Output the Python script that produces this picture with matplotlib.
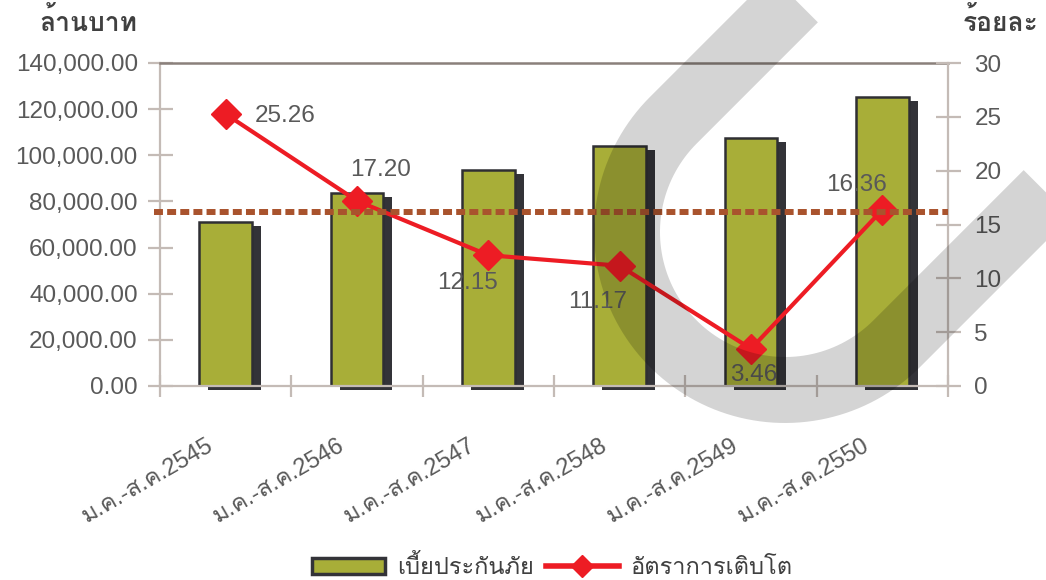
import numpy as np
import matplotlib
matplotlib.use('Agg')
import matplotlib.pyplot as plt
import matplotlib.transforms as mtransforms
from matplotlib import font_manager
from matplotlib.ft2font import FT2Font
from matplotlib.patches import Patch
from matplotlib.lines import Line2D

# data
periods = ['ม.ค.-ส.ค.2545', 'ม.ค.-ส.ค.2546', 'ม.ค.-ส.ค.2547',
           'ม.ค.-ส.ค.2548', 'ม.ค.-ส.ค.2549', 'ม.ค.-ส.ค.2550']
premium = [71200, 83450, 93600, 104050, 107650, 125260]
growth = [25.26, 17.20, 12.15, 11.17, 3.46, 16.36]
growth_labels = ['25.26', '17.20', '12.15', '11.17', '3.46', '16.36']
ref_level = 16.2
left_ticks = [0, 20000, 40000, 60000, 80000, 100000, 120000, 140000]
right_ticks = [0, 5, 10, 15, 20, 25, 30]

# label offsets in pixels (dx, dy)
label_offsets = [(59, -2), (24, 31), (-21, -28), (-22, -36), (3, -26), (-26, 25)]

# find a font that has thai glyphs
thai_font = None
for f in font_manager.fontManager.ttflist:
    try:
        if FT2Font(f.fname).get_char_index(ord('ก')):
            thai_font = f.name
            break
    except Exception:
        pass
fams = ['Liberation Sans']
if thai_font:
    fams.append(thai_font)
fams.append('DejaVu Sans')
plt.rcParams['font.family'] = fams

W, H = 1046, 580
fig = plt.figure(figsize=(W / 100, H / 100), dpi=100)
ax = fig.add_axes([160 / W, 1 - 386 / H, (948 - 160) / W, (386 - 63) / H])

axis_col = '#c4bbb6'
text_col = '#595959'
olive = '#a8ae38'
dark = '#333338'
red = '#ed1c24'

x = np.arange(len(periods))
ax.set_xlim(-0.5, len(periods) - 0.5)
ax.set_ylim(0, 140000)

# shadow bars then main bars
shadow_tr = mtransforms.offset_copy(ax.transData, fig=fig, x=9, y=-4, units='dots')
sh = ax.bar(x, premium, width=0.40, color=dark, zorder=1)
for p in sh:
    p.set_transform(shadow_tr)
    p.set_clip_on(False)
bars = ax.bar(x, premium, width=0.40, color=olive, edgecolor='#2f2f33',
              linewidth=1.8, zorder=2)

# axes styling
ax.set_yticks(left_ticks)
ax.set_yticklabels([f'{v:,.2f}' for v in left_ticks])
ax.set_xticks(np.arange(-0.5, len(periods)), labels=[])
ax.set_xticks(x, labels=periods, minor=True)
ax.tick_params(axis='y', direction='inout', length=18, width=1.6, color=axis_col,
               labelsize=17.5, labelcolor=text_col, pad=7)
ax.tick_params(axis='x', which='major', direction='inout', length=16.5, width=1.6,
               color=axis_col)
ax.tick_params(axis='x', which='minor', length=0, labelsize=17,
               labelcolor=text_col, pad=35)
for lbl in ax.get_xticklabels(minor=True):
    lbl.set_rotation(30)
    lbl.set_ha('right')
    lbl.set_va('top')
    lbl.set_rotation_mode('anchor')
    lbl.set_transform(lbl.get_transform() +
                      mtransforms.ScaledTranslation(-0.2, 0, fig.dpi_scale_trans))

for s in ['left', 'bottom']:
    ax.spines[s].set_color(axis_col)
    ax.spines[s].set_linewidth(1.6)
ax.spines['top'].set_color('#8a807b')
ax.spines['top'].set_linewidth(1.8)
ax.spines['right'].set_visible(False)

# growth rate on right axis
ax2 = ax.twinx()
ax2.set_ylim(0, 30)
ax2.set_yticks(right_ticks)
ax2.tick_params(axis='y', direction='inout', length=18, width=1.6, color=axis_col,
                labelsize=17.5, labelcolor=text_col, pad=10)
for s in ['left', 'top', 'bottom']:
    ax2.spines[s].set_visible(False)
ax2.spines['right'].set_color(axis_col)
ax2.spines['right'].set_linewidth(1.6)

ax2.plot(x, growth, color=red, lw=3, marker='D', ms=15.5, zorder=3)
ax2.axhline(ref_level, xmin=-0.007, xmax=1, color='#a9532d', lw=4.3,
            linestyle=(0, (1.5, 0.7)), clip_on=False, zorder=4)

for xi, g, t, (dx, dy) in zip(x, growth, growth_labels, label_offsets):
    ax2.annotate(t, (xi, g), xytext=(dx * 0.72, dy * 0.72), textcoords='offset points',
                 ha='center', va='center', fontsize=17.5, color=text_col, zorder=5)

# unit headers
fig.text(88 / W, 1 - 22 / H, 'ล้านบาท', ha='center', va='center', fontsize=19,
         fontweight='bold', color='#404040')
fig.text(1001 / W, 1 - 22 / H, 'ร้อยละ', ha='center', va='center', fontsize=19,
         fontweight='bold', color='#404040')

# legend
handles = [Patch(facecolor=olive, edgecolor=dark, linewidth=2.5),
           Line2D([], [], color=red, lw=4, marker='D', ms=11)]
fig.legend(handles, ['เบี้ยประกันภัย', 'อัตราการเติบโต'], loc='lower center',
           bbox_to_anchor=(0.528, -0.035), ncol=2, frameon=False, fontsize=17,
           handlelength=3.1, handleheight=0.7, columnspacing=0.5, handletextpad=0.5,
           labelcolor='#404040')

# watermark band (U shape), pixel coords from top-left
cx, cy, r = 785, 232, 158
theta = np.radians(np.linspace(225, 45, 90))
arc_x = cx + r * np.cos(theta)
arc_y = cy + r * np.sin(theta)
wx = np.concatenate([[arc_x[0] + 200], arc_x, [arc_x[-1] + 250]])
wy = np.concatenate([[arc_y[0] - 200], arc_y, [arc_y[-1] - 250]])
wm = Line2D(wx / W, 1 - wy / H, transform=fig.transFigure, color='black', alpha=0.17,
            lw=47.5, solid_capstyle='butt', solid_joinstyle='round', zorder=10)
fig.add_artist(wm)

fig.savefig('out.png', dpi=100)
